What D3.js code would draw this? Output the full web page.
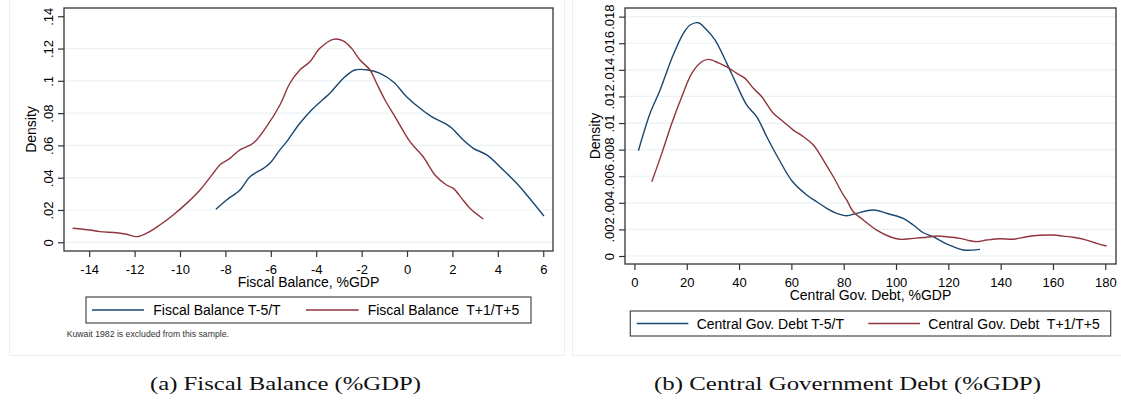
<!DOCTYPE html>
<html>
<head>
<meta charset="utf-8">
<script src="https://cdn.jsdelivr.net/npm/d3@7"></script>
<style>
  html, body { margin: 0; padding: 0; background: #fff; }
  svg { display: block; }
  text { font-family: Arial, "Liberation Sans", sans-serif; fill: #000; }
  .cap { font-family: "Liberation Serif", "Times New Roman", serif; }
</style>
</head>
<body>
<svg id="chart" width="1121" height="401"></svg>
<script>
// ---------- Data: Fiscal Balance (%GDP) kernel densities ----------
const fbPreX  = [-8.42,-7.95,-7.36,-6.92,-6.33,-6.04,-5.60,-5.30,-4.72,-4.13,-3.40,-2.81,-2.30,-1.71,-1.19,-0.61,-0.02,0.57,1.08,1.89,2.48,2.92,3.51,4.24,4.83,5.34,6.03];
const fbPreY  = [0.0204,0.0262,0.0324,0.0406,0.0458,0.0489,0.0572,0.0623,0.0737,0.0830,0.0923,0.1015,0.1067,0.1067,0.1046,0.0994,0.0902,0.0830,0.0778,0.0716,0.0633,0.0582,0.0541,0.0448,0.0365,0.0282,0.0163];
const fbPostX = [-14.73,-13.97,-13.53,-12.79,-12.35,-11.91,-11.47,-10.89,-10.30,-9.71,-9.12,-8.54,-8.24,-7.80,-7.36,-6.78,-6.19,-5.60,-5.16,-4.72,-4.28,-3.84,-3.25,-2.81,-2.44,-2.07,-1.63,-1.34,-0.97,-0.53,0.13,0.71,1.23,1.74,2.04,2.41,2.77,3.36];
const fbPostY = [0.0087,0.0076,0.0066,0.0059,0.0050,0.0035,0.0056,0.0107,0.0169,0.0241,0.0324,0.0427,0.0480,0.0520,0.0572,0.0613,0.0716,0.0850,0.0985,0.1067,0.1118,0.1201,0.1257,0.1248,0.1201,0.1129,0.1067,0.0985,0.0881,0.0778,0.0623,0.0530,0.0417,0.0355,0.0334,0.0272,0.0211,0.0144];
const fbXTicks = [-14,-12,-10,-8,-6,-4,-2,0,2,4,6];
const fbYTicks = [0,0.02,0.04,0.06,0.08,0.1,0.12,0.14];
const fbYTickLabels = ["0",".02",".04",".06",".08",".1",".12",".14"];
const fbSeriesNames = ["Fiscal Balance T-5/T", "Fiscal Balance  T+1/T+5"];

// ---------- Data: Central Government Debt (%GDP) kernel densities ----------
const cdPreX  = [1.53,6.00,9.82,14.29,18.72,21.28,24.46,27.02,30.84,35.31,39.13,42.95,46.77,50.59,55.02,60.26,65.88,69.70,73.52,77.34,81.16,84.98,91.33,97.71,102.79,106.61,110.43,114.25,118.07,121.90,125.72,132.10];
const cdPreY  = [0.00792,0.01073,0.01248,0.01486,0.01674,0.01737,0.01754,0.01712,0.01624,0.01449,0.01286,0.01135,0.01047,0.00897,0.00735,0.00564,0.00459,0.00408,0.00359,0.00321,0.00303,0.00321,0.00346,0.00314,0.00283,0.00233,0.00175,0.00145,0.00103,0.00070,0.00045,0.00050];
const cdPostX = [6.65,10.47,14.29,18.11,21.93,25.75,28.28,32.10,35.31,39.13,42.30,45.47,48.68,53.11,56.94,60.76,64.58,68.40,72.22,76.04,79.86,81.16,83.68,87.50,92.62,97.71,101.53,106.61,111.73,115.55,119.37,124.46,128.28,130.84,134.66,139.74,144.82,149.94,155.03,160.11,163.93,167.75,172.87,176.69,180.51];
const cdPostY = [0.00559,0.00772,0.00998,0.01198,0.01374,0.01461,0.01479,0.01453,0.01423,0.01374,0.01336,0.01261,0.01198,0.01073,0.01010,0.00947,0.00897,0.00835,0.00722,0.00596,0.00459,0.00421,0.00333,0.00271,0.00195,0.00145,0.00126,0.00133,0.00141,0.00150,0.00145,0.00133,0.00115,0.00108,0.00120,0.00130,0.00126,0.00145,0.00156,0.00158,0.00150,0.00141,0.00120,0.00095,0.00075];
const cdXTicks = [0,20,40,60,80,100,120,140,160,180];
const cdYTicks = [0,0.002,0.004,0.006,0.008,0.01,0.012,0.014,0.016,0.018];
const cdYTickLabels = ["0",".002",".004",".006",".008",".01",".012",".014",".016",".018"];
const cdSeriesNames = ["Central Gov. Debt T-5/T", "Central Gov. Debt  T+1/T+5"];

const captions = ["(a) Fiscal Balance (%GDP)", "(b) Central Government Debt (%GDP)"];
const xTitles = ["Fiscal Balance, %GDP", "Central Gov. Debt, %GDP"];
const note = "Kuwait 1982 is excluded from this sample.";

// ---------- Styles ----------
const NAVY = "#1a476f", MAROON = "#90353b";
const AXIS = "#333333", GRID = "#eaf2f3", FRAME = "#eceff0";

const svg = d3.select("#chart");

// outer light frames of the two graph panels
svg.append("path").attr("d", "M9.5,0 V355.5 H564.5 V0").attr("fill", "none").attr("stroke", FRAME).attr("stroke-width", 1);
svg.append("path").attr("d", "M572.5,0 V355.5 H1121").attr("fill", "none").attr("stroke", FRAME).attr("stroke-width", 1);

function panel(cfg) {
  const g = svg.append("g");
  const x = d3.scaleLinear().domain(cfg.xDom).range([cfg.left, cfg.right]);
  const y = d3.scaleLinear().domain(cfg.yDom).range([cfg.bottom, cfg.top]);

  // gridlines
  g.append("g").selectAll("line").data(cfg.yTicks.filter(cfg.gridFilter)).join("line")
    .attr("x1", cfg.left).attr("x2", cfg.right)
    .attr("y1", d => y(d)).attr("y2", d => y(d))
    .attr("stroke", GRID).attr("stroke-width", 1.2);

  // curves
  const line = d3.line().x(d => x(d[0])).y(d => y(d[1])).curve(d3.curveCatmullRom.alpha(0.5));
  cfg.series.forEach(s => {
    g.append("path").datum(d3.zip(s.x, s.y))
      .attr("d", line).attr("fill", "none")
      .attr("stroke", s.color).attr("stroke-width", 1.4)
      .attr("stroke-linejoin", "round");
  });

  // frame
  g.append("rect").attr("x", cfg.left).attr("y", cfg.top)
    .attr("width", cfg.right - cfg.left).attr("height", cfg.bottom - cfg.top)
    .attr("fill", "none").attr("stroke", AXIS).attr("stroke-width", 1.3);

  // y axis
  const yAxis = d3.axisLeft(y).tickValues(cfg.yTicks).tickSize(6).tickSizeOuter(0)
    .tickFormat((d, i) => cfg.yLabels[i]);
  const ya = g.append("g").attr("transform", `translate(${cfg.left},0)`).call(yAxis);
  ya.select(".domain").remove();
  ya.selectAll(".tick line").attr("stroke", AXIS).attr("stroke-width", 1.2);
  ya.selectAll(".tick text")
    .attr("x", null).attr("dy", null)
    .attr("transform", "translate(-11,0) rotate(-90)")
    .attr("text-anchor", "middle")
    .style("font-size", "13px")
    .style("font-family", 'Arial, "Liberation Sans", sans-serif');

  // x axis
  const xAxis = d3.axisBottom(x).tickValues(cfg.xTicks).tickSize(6).tickSizeOuter(0)
    .tickFormat(d => d3.format("d")(d).replace("\u2212", "-"));
  const xa = g.append("g").attr("transform", `translate(0,${cfg.bottom})`).call(xAxis);
  xa.select(".domain").remove();
  xa.selectAll(".tick line").attr("stroke", AXIS).attr("stroke-width", 1.2);
  xa.selectAll(".tick text").attr("y", 22.5).attr("dy", null)
    .style("font-size", "13px")
    .style("font-family", 'Arial, "Liberation Sans", sans-serif');

  // axis titles
  g.append("text").attr("x", (cfg.left + cfg.right) / 2).attr("y", cfg.bottom + 36.3)
    .attr("text-anchor", "middle").style("font-size", "14px").text(cfg.xTitle);
  g.append("text")
    .attr("transform", `translate(${cfg.densityX},${(cfg.top + cfg.bottom) / 2}) rotate(-90)`)
    .attr("text-anchor", "middle").style("font-size", "14px").text("Density");

  // legend
  const L = cfg.legend;
  g.append("rect").attr("x", L.x0).attr("y", L.y0).attr("width", L.x1 - L.x0).attr("height", L.y1 - L.y0)
    .attr("fill", "#fff").attr("stroke", "#4a4a4a").attr("stroke-width", 1.2);
  const ly = (L.y0 + L.y1) / 2;
  cfg.series.forEach((s, i) => {
    const it = L.items[i];
    g.append("line").attr("x1", it.lx0).attr("x2", it.lx1).attr("y1", ly).attr("y2", ly)
      .attr("stroke", s.color).attr("stroke-width", 1.4);
    g.append("text").attr("x", it.tx).attr("y", ly + 5.2)
      .style("font-size", "14px").style("white-space", "pre").text(s.name);
  });

  // caption
  svg.append("text").attr("class", "cap").attr("x", cfg.capX).attr("y", 390)
    .attr("text-anchor", "middle").style("font-size", "19.5px").style("fill", "#111")
    .attr("textLength", cfg.capW).attr("lengthAdjust", "spacingAndGlyphs")
    .text(cfg.caption);
  return g;
}

const gA = panel({
  left: 64, right: 553, top: 8, bottom: 251,
  xDom: [-15.11, 6.43], yDom: [-0.0054, 0.1451],
  xTicks: fbXTicks, yTicks: fbYTicks, yLabels: fbYTickLabels,
  gridFilter: d => d < 0.135,
  series: [
    { x: fbPreX, y: fbPreY, color: NAVY, name: fbSeriesNames[0] },
    { x: fbPostX, y: fbPostY, color: MAROON, name: fbSeriesNames[1] }
  ],
  xTitle: xTitles[0], densityX: 35.5,
  legend: { x0: 86, x1: 531, y0: 297, y1: 323,
            items: [{ lx0: 92, lx1: 144, tx: 153.3 }, { lx0: 306, lx1: 358.7, tx: 367.7 }] },
  caption: captions[0], capX: 285.5, capW: 271
});
gA.append("text").attr("x", 66.7).attr("y", 337.3)
  .style("font-size", "8.7px").style("fill", "#333").text(note);

panel({
  left: 625, right: 1116, top: 8, bottom: 264,
  xDom: [-3.6, 184.1], yDom: [-0.0006, 0.01865],
  xTicks: cdXTicks, yTicks: cdYTicks, yLabels: cdYTickLabels,
  gridFilter: d => true,
  series: [
    { x: cdPreX, y: cdPreY, color: NAVY, name: cdSeriesNames[0] },
    { x: cdPostX, y: cdPostY, color: MAROON, name: cdSeriesNames[1] }
  ],
  xTitle: xTitles[1], densityX: 599.5,
  legend: { x0: 630.3, x1: 1110.7, y0: 311, y1: 336,
            items: [{ lx0: 636.7, lx1: 688.3, tx: 696.7 }, { lx0: 868.3, lx1: 920, tx: 928.3 }] },
  caption: captions[1], capX: 847.5, capW: 387
});
</script>
</body>
</html>
